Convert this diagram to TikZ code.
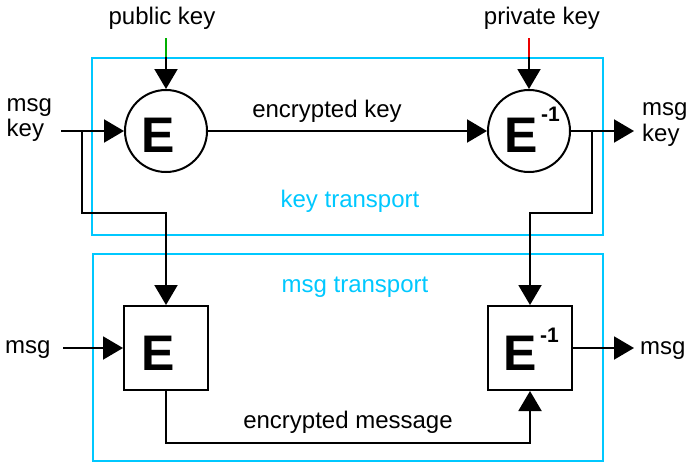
\documentclass[tikz,border=0pt]{standalone}
\usepackage{fontspec}
\setmainfont{Liberation Sans}
\usetikzlibrary{arrows.meta}
\definecolor{boxcyan}{RGB}{0,200,255}
\definecolor{keygreen}{RGB}{0,175,0}
\definecolor{keyred}{RGB}{235,0,0}
\newcommand\supinv[1]{\hspace{3.5pt}\smash{\raisebox{#1}{\fontsize{21}{21}\selectfont\bfseries -1}}}
\begin{document}
\begin{tikzpicture}[x=1pt,y=-1pt,
  wire/.style={line width=2pt,black},
  arr/.style={wire,-{Triangle[length=20pt,width=23pt]}},
  lbl/.style={font=\fontsize{24}{26}\selectfont,inner sep=0pt},
  cyanlbl/.style={lbl,text=boxcyan},
  region/.style={draw=boxcyan,line width=2pt},
  circ/.style={circle,draw,line width=2pt,minimum size=82pt,inner sep=0pt},
  sq/.style={rectangle,draw,line width=2pt,minimum size=84pt,inner sep=0pt},
  bigE/.style={inner sep=0pt,font=\fontsize{50}{50}\selectfont\bfseries},
]
\useasboundingbox (0,0) rectangle (693,463);

% regions
\draw[region] (92,58) rectangle (603,235);
\draw[region] (93,254) rectangle (603,461);
\node[cyanlbl,anchor=base] (kt) at (350,207) {key transport};
\node[cyanlbl,anchor=base] (mt) at (355,292) {msg transport};

% blocks
\node[circ] (E1) at (166,131) {};
\node[circ] (E3) at (529,131) {};
\node[sq] (E2) at (166,348) {};
\node[sq] (E4) at (530,348) {};
\node[bigE,anchor=base] (t1) at (158,152) {E};
\node[bigE,anchor=base west] (t3) at (504,152) {E\supinv{31pt}};
\node[bigE,anchor=base] (t2) at (158,370) {E};
\node[bigE,anchor=base west] (t4) at (503,370) {E\supinv{28pt}};

% labels
\node[lbl,anchor=base] (pub) at (162,24) {public key};
\node[lbl,anchor=base] (priv) at (542,24) {private key};
\node[lbl,anchor=base west] (lmsg) at (6.5,111) {msg};
\node[lbl,anchor=base west] (lkey) at (6.5,136) {key};
\node[lbl,anchor=base west] (rmsg) at (642,115) {msg};
\node[lbl,anchor=base west] (rkey) at (642,141) {key};
\node[lbl,anchor=base west] (bmsg) at (5,353) {msg};
\node[lbl,anchor=base west] (brmsg) at (640,354) {msg};
\node[lbl,anchor=base] (ek) at (327,117) {encrypted key};
\node[lbl,anchor=base] (em) at (348,428) {encrypted message};

% coordinates
\coordinate (pkt) at (166,38);
\coordinate (pkm) at (166,57);
\coordinate (skt) at (529,38);
\coordinate (skm) at (529,57);
\coordinate (inL) at (61,131);
\coordinate (brL) at (82,131);
\coordinate (jL) at (82,213);
\coordinate (outR) at (634,131);
\coordinate (brR) at (592,131);
\coordinate (jR) at (592,213);
\coordinate (inM) at (63,348);
\coordinate (outM) at (634,348);
\coordinate (jB) at (166,443);

% connectors
\draw[line width=2pt,keygreen] (pkt) -- (pkm);
\draw[arr] (pkm) -- (E1.north);
\draw[line width=2pt,keyred] (skt) -- (skm);
\draw[arr] (skm) -- (E3.north);
\draw[arr] (inL) -- (E1.west);
\draw[arr] (brL) -- (jL) -| (E2.north);
\draw[arr] (E1.east) -- (E3.west);
\draw[arr] (E3.east) -- (outR);
\draw[arr] (brR) -- (jR) -| (E4.north);
\draw[arr] (inM) -- (E2.west);
\draw[arr] (E4.east) -- (outM);
\draw[arr] (E2.south) -- (jB) -| (E4.south);
\end{tikzpicture}
\end{document}
